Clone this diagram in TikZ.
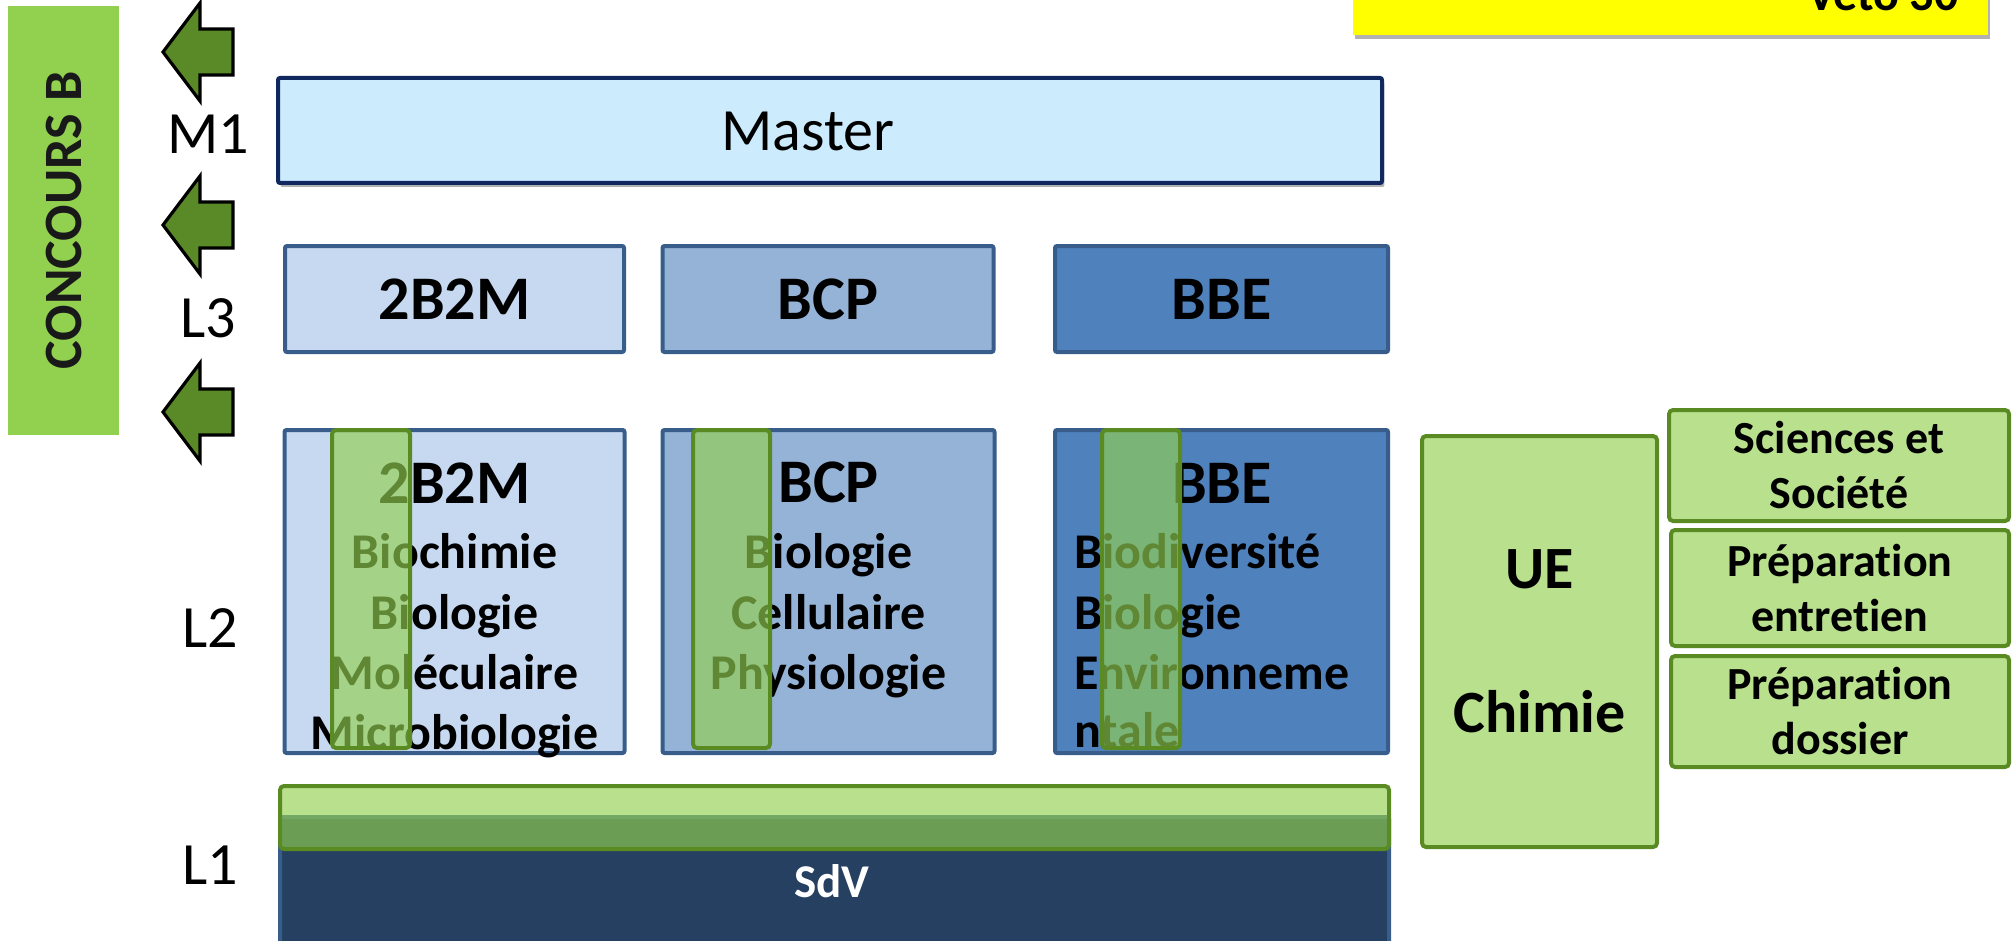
\documentclass[tikz,border=0pt]{standalone}
\usepackage{fontspec}
\setmainfont{Carlito}[Ligatures=NoCommon]
\usetikzlibrary{shadows}
\definecolor{cgreen}{HTML}{92D050}
\definecolor{dgreen}{HTML}{5A8A22}
\definecolor{arrowgreen}{HTML}{5A8A27}
\definecolor{mfill}{HTML}{CCEBFC}
\definecolor{mborder}{HTML}{10285E}
\definecolor{lA}{HTML}{C6D9F1}
\definecolor{lB}{HTML}{95B3D7}
\definecolor{lC}{HTML}{4F81BD}
\definecolor{bborder}{HTML}{385D8A}
\definecolor{navy}{HTML}{254061}
\definecolor{ylw}{HTML}{FFFF00}
\begin{document}
\begin{tikzpicture}[x=0.5pt,y=-0.5pt,
  lab/.style={font=\fontsize{30}{36}\selectfont, inner sep=0pt},
  head/.style={font=\fontsize{31}{37}\selectfont\bfseries, inner sep=0pt, anchor=base},
  subl/.style={font=\fontsize{25}{30}\selectfont\bfseries, inner sep=0pt, anchor=base},
  sidetxt/.style={font=\fontsize{23}{27.5}\selectfont\bfseries, align=center},
  bluebox/.style={draw=bborder, line width=2pt, inner sep=0pt, rounded corners=1pt},
  overlay/.style={draw=dgreen, line width=2pt, fill=cgreen, fill opacity=0.65, draw opacity=1, text opacity=1, rounded corners=2pt, inner sep=0pt},
  arrowst/.style={fill=arrowgreen, draw=black, line width=1.6pt, line join=miter},
  shad/.style={drop shadow={shadow xshift=1.2pt, shadow yshift=-2pt, fill=black, opacity=0.3}}
]
\useasboundingbox (0,0) rectangle (2016,941);
\clip (0,0) rectangle (2016,941);

% yellow box (top right, cut)
\node[shad, fill=ylw, minimum width=317.5pt, minimum height=37.5pt, inner sep=0pt] (veto) at (1670.5,-2.5) {};
\node[font=\fontsize{24}{29}\selectfont\bfseries, inner sep=0pt, anchor=base east] (vetotxt) at (1959,11) {Véto 30};

% concours B
\node[fill=cgreen, rotate=90, minimum width=214.5pt, minimum height=55.5pt, inner sep=0pt,
      font=\fontsize{27}{32}\selectfont\bfseries, text=black!90] (concours) at (63.5,220.5) {CONCOURS B};

% arrows
\foreach \c in {52,225,412}
  \draw[arrowst] (163,\c) -- (200,\c-49) -- (200,\c-23) -- (233,\c-23) -- (233,\c+23) -- (200,\c+23) -- (200,\c+49) -- cycle;

% level labels
\node[lab] (m1) at (208,134) {M1};
\node[lab] (l3) at (208,318) {L3};
\node[lab] (l2) at (210,628) {L2};
\node[lab] (l1) at (210,865) {L1};

% Master
\node[shad, fill=mfill, draw=mborder, line width=2pt, minimum width=552pt, minimum height=52.5pt, inner sep=0pt, rounded corners=1pt] (master) at (830,130.5) {};
\node[lab] (mastertxt) at (808,131) {Master};

% L3
\node[bluebox, fill=lA, minimum width=169.5pt, minimum height=53pt, font=\fontsize{31}{37}\selectfont\bfseries] (t2b2m) at (454.5,299) {2B2M};
\node[bluebox, fill=lB, minimum width=165.5pt, minimum height=53pt, font=\fontsize{31}{37}\selectfont\bfseries] (tbcp) at (828,299) {BCP};
\node[bluebox, fill=lC, minimum width=166.5pt, minimum height=53pt, font=\fontsize{31}{37}\selectfont\bfseries] (tbbe) at (1221.5,299) {BBE};

% L2 boxes
\node[bluebox, fill=lA, minimum width=170pt, minimum height=161.5pt] (s2b2m) at (454.5,591.5) {};
\node[bluebox, fill=lB, minimum width=166pt, minimum height=161.5pt] (sbcp) at (828.5,591.5) {};
\node[bluebox, fill=lC, minimum width=166.5pt, minimum height=161.5pt] (sbbe) at (1221.5,591.5) {};

% L2 texts
\node[head] (h2b2m) at (454.5,503) {2B2M};
\node[subl] (a1) at (454.5,568) {Biochimie};
\node[subl] (a2) at (454.5,629) {Biologie};
\node[subl] (a3) at (454.5,689) {Moléculaire};
\node[subl] (a4) at (454.5,749) {Microbiologie};

\node[head] (hbcp) at (828.5,502) {BCP};
\node[subl] (b1) at (828.5,568) {Biologie};
\node[subl] (b2) at (828.5,629) {Cellulaire};
\node[subl] (b3) at (828.5,689) {Physiologie};

\node[head] (hbbe) at (1222,503) {BBE};
\node[subl, anchor=base west] (c1) at (1074,568) {Biodiversité};
\node[subl, anchor=base west] (c2) at (1074,629) {Biologie};
\node[subl, anchor=base west] (c3) at (1074,689) {Environneme};
\node[subl, anchor=base west] (c4) at (1074,747) {ntale};

% green overlays on L2
\node[overlay, minimum width=39pt, minimum height=159pt] (g1) at (371,589) {};
\node[overlay, minimum width=38.5pt, minimum height=159pt] (g2) at (731.5,589) {};
\node[overlay, minimum width=39pt, minimum height=159pt] (g3) at (1141,589) {};

% L1
\node[bluebox, fill=navy, minimum width=554.5pt, minimum height=64pt] (sdv) at (834.5,881) {};
\node[font=\fontsize{23.5}{28}\selectfont\bfseries, text=white, inner sep=0pt, anchor=base] (sdvtxt) at (832,897) {SdV};
\node[overlay, minimum width=554.5pt, minimum height=31.5pt] (l1bar) at (834.5,817.5) {};

% UE Chimie
\node[overlay, minimum width=117.5pt, minimum height=205.5pt, align=center,
      font=\fontsize{30}{36}\selectfont\bfseries] (ue) at (1539.5,641.5) {UE\\[36pt]Chimie};

% side boxes
\node[overlay, sidetxt, minimum width=170pt, minimum height=55.5pt] (sci) at (1839,465.5) {Sciences et\\Société};
\node[overlay, sidetxt, minimum width=169pt, minimum height=58pt] (prep1) at (1840,588) {Préparation\\entretien};
\node[overlay, sidetxt, minimum width=169pt, minimum height=55.5pt] (prep2) at (1840,711.5) {Préparation\\dossier};
\end{tikzpicture}
\end{document}
